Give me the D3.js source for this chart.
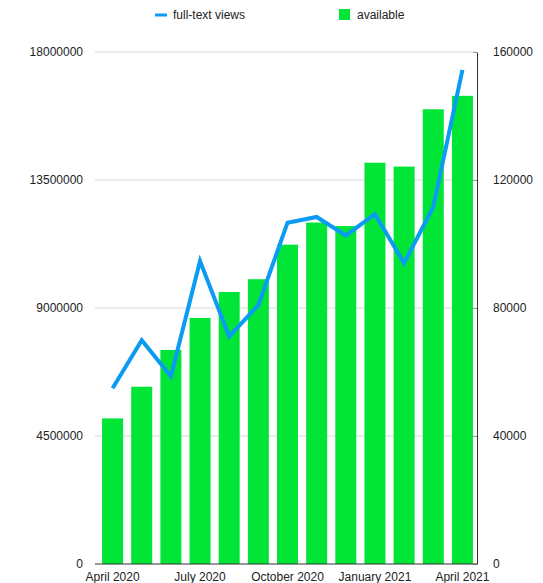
<!DOCTYPE html>
<html>
<head>
<meta charset="utf-8">
<script src="https://cdn.jsdelivr.net/npm/d3@7"></script>
<style>
  body { margin: 0; background: #fff; }
  svg text { font-family: "Liberation Sans", Arial, Helvetica, sans-serif; font-size: 12px; fill: #222; }
</style>
</head>
<body>
<div id="canvas"><svg width="543" height="583"></svg></div>
<script>
// monthly categories
var months = ["April 2020", "May 2020", "June 2020", "July 2020", "August 2020", "September 2020",
  "October 2020", "November 2020", "December 2020", "January 2021", "February 2021", "March 2021", "April 2021"];
// full-text views (left axis)
var views = [6180000, 7870000, 6600000, 10650000, 8000000, 9100000, 12000000, 12200000,
  11550000, 12300000, 10580000, 12550000, 17370000];
// available (right axis)
var available = [45500, 55400, 66900, 76900, 85000, 89000, 99800, 106700, 105600, 125400, 124200, 142100, 146300];
var leftTicks = [0, 4500000, 9000000, 13500000, 18000000];
var rightTicks = [0, 40000, 80000, 120000, 160000];
var xLabels = ["April 2020", "July 2020", "October 2020", "January 2021", "April 2021"];

var blue = "#0b9bf2", green = "#00e536";
var svg = d3.select("#canvas svg"),
    plotLeft = 95, plotRight = 477, plotTop = 52, plotBottom = 564;

var x = d3.scaleBand().domain(months).range([98, plotRight]).paddingInner(0.28).paddingOuter(0.14);
var yL = d3.scaleLinear().domain([0, 18000000]).range([plotBottom, plotTop]);
var yR = d3.scaleLinear().domain([0, 160000]).range([plotBottom, plotTop]);

// gridlines
svg.append("g").selectAll("line")
  .data(leftTicks.slice(1))
  .enter().append("line")
  .attr("x1", plotLeft).attr("x2", plotRight)
  .attr("y1", function (d) { return yL(d); })
  .attr("y2", function (d) { return yL(d); })
  .attr("stroke", "#d9d9d9").attr("stroke-width", 1);

// bars
svg.append("g").selectAll("rect")
  .data(available)
  .enter().append("rect")
  .attr("x", function (d, i) { return x(months[i]); })
  .attr("width", x.bandwidth())
  .attr("y", function (d) { return yR(d); })
  .attr("height", function (d) { return plotBottom - yR(d); })
  .attr("fill", green);

// left axis labels (no line)
var axL = svg.append("g").attr("transform", "translate(" + (plotLeft - 12) + ",0)")
  .call(d3.axisLeft(yL).tickValues(leftTicks).tickSize(0).tickPadding(0).tickFormat(d3.format("d")));
axL.select(".domain").remove();
axL.selectAll("text").style("font-size", "12px").style("fill", "#222")
  .style("font-family", "'Liberation Sans', Arial, sans-serif");

// right axis
var axR = svg.append("g").attr("transform", "translate(" + plotRight + ",0)")
  .call(d3.axisRight(yR).tickValues(rightTicks).tickSize(0).tickPadding(16).tickFormat(d3.format("d")));
axR.select(".domain").attr("stroke", "#333");
axR.selectAll("text").style("font-size", "12px").style("fill", "#222")
  .style("font-family", "'Liberation Sans', Arial, sans-serif");
axR.selectAll(".tick").append("line").attr("x1", -4).attr("x2", 0).attr("stroke", "#999");

// bottom axis
svg.append("line").attr("x1", plotLeft).attr("x2", plotRight).attr("y1", plotBottom).attr("y2", plotBottom)
  .attr("stroke", "#333").attr("stroke-width", 1.2);
svg.append("g").selectAll("text")
  .data(xLabels)
  .enter().append("text")
  .attr("x", function (d) { return x(d) + x.bandwidth() / 2; })
  .attr("y", 581)
  .attr("text-anchor", "middle")
  .text(function (d) { return d; });

// line
var line = d3.line()
  .x(function (d, i) { return x(months[i]) + x.bandwidth() / 2; })
  .y(function (d) { return yL(d); });
svg.append("path").datum(views)
  .attr("d", line)
  .attr("fill", "none")
  .attr("stroke", blue)
  .attr("stroke-width", 4)
  .attr("stroke-linejoin", "miter");

// legend
var lg = svg.append("g");
lg.append("line").attr("x1", 155).attr("x2", 167).attr("y1", 15).attr("y2", 15)
  .attr("stroke", blue).attr("stroke-width", 3);
lg.append("text").attr("x", 173).attr("y", 19).text("full-text views");
lg.append("rect").attr("x", 339).attr("y", 9).attr("width", 11).attr("height", 11).attr("fill", green);
lg.append("text").attr("x", 357).attr("y", 19).text("available");
</script>
</body>
</html>
